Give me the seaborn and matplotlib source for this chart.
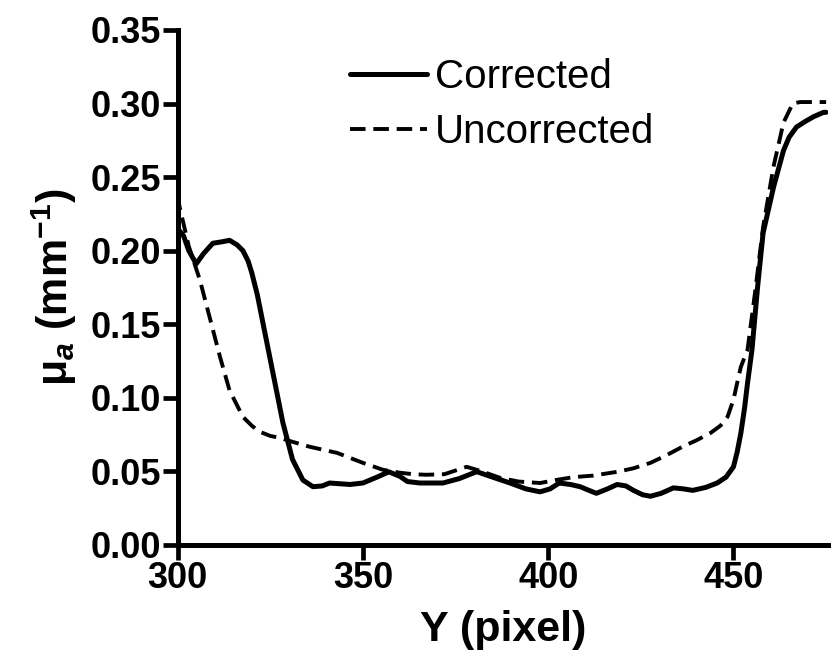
import matplotlib
matplotlib.use("Agg")
import matplotlib.pyplot as plt
import seaborn as sns
import pandas as pd

# Data
corr_x = [300, 301.6, 303, 305, 307, 309.5, 312, 314, 316, 317.6, 319, 320, 321.5, 323, 325.7, 328.4, 331, 333.8,
          336.5, 339, 341, 346.5, 350, 353.8, 357, 360, 362, 365.4, 371.6, 376, 380.7, 385, 389.7, 394, 397.8,
          400.5, 403, 406, 408.6, 411, 413, 416, 418.6, 421, 423, 425.5, 427.6, 430.5, 433.8, 436.5, 439,
          442.5, 445.6, 448, 450, 451, 452, 453, 453.8, 455, 456.5, 458, 460.8, 463.5, 465, 467, 469.5,
          471.6, 474.3, 475]
corr_y = [0.215, 0.210, 0.200, 0.191, 0.198, 0.205, 0.206, 0.207, 0.204, 0.200, 0.193, 0.185, 0.170, 0.151, 0.117,
          0.083, 0.058, 0.044, 0.0395, 0.040, 0.042, 0.041, 0.042, 0.046, 0.0496, 0.0465, 0.043, 0.042, 0.042,
          0.045, 0.0497, 0.046, 0.042, 0.038, 0.036, 0.038, 0.042, 0.041, 0.0395, 0.037, 0.035, 0.038, 0.041,
          0.040, 0.037, 0.034, 0.033, 0.035, 0.0387, 0.038, 0.037, 0.039, 0.042, 0.046, 0.053, 0.063, 0.076,
          0.093, 0.110, 0.1326, 0.175, 0.212, 0.243, 0.268, 0.277, 0.284, 0.288, 0.291, 0.294, 0.294]

unc_x = [300, 300.5, 303, 306, 308.6, 311.4, 314, 317.6, 320, 322, 325, 327.6, 331, 335.7, 343, 350, 355.4,
         360, 363.5, 367, 372, 378, 382, 387, 392, 397.8, 402, 406.8, 412, 418.6, 423, 427.6, 432, 436.5,
         440, 443.8, 446.5, 448.4, 450, 451, 452, 453.8, 456, 458, 460.8, 463.5, 466, 468, 470, 473.5, 475]
unc_y = [0.238, 0.230, 0.203, 0.180, 0.155, 0.128, 0.105, 0.087, 0.081, 0.077, 0.074, 0.0727, 0.070, 0.0666,
         0.0625, 0.0557, 0.051, 0.049, 0.048, 0.0476, 0.048, 0.053, 0.050, 0.0455, 0.043, 0.042, 0.044, 0.046,
         0.047, 0.0496, 0.052, 0.0557, 0.061, 0.067, 0.071, 0.076, 0.081, 0.087, 0.0986, 0.110, 0.121, 0.1326,
         0.175, 0.216, 0.257, 0.287, 0.300, 0.301, 0.301, 0.301, 0.301]

x_ticks = [300, 350, 400, 450]
y_ticks = [0.00, 0.05, 0.10, 0.15, 0.20, 0.25, 0.30, 0.35]

df_c = pd.DataFrame({"x": corr_x, "y": corr_y})
df_u = pd.DataFrame({"x": unc_x, "y": unc_y})

sns.set_style("ticks")
plt.rcParams["font.family"] = ["Liberation Sans", "DejaVu Sans"]
plt.rcParams["mathtext.fontset"] = "custom"
plt.rcParams["mathtext.rm"] = "Liberation Sans:bold"
plt.rcParams["mathtext.it"] = "Liberation Sans:bold:italic"
plt.rcParams["mathtext.bf"] = "Liberation Sans:bold"
plt.rcParams["axes.unicode_minus"] = False
for k in ["text.color", "axes.labelcolor", "xtick.color", "ytick.color", "axes.edgecolor"]:
    plt.rcParams[k] = "black"

fig = plt.figure(figsize=(8.38, 6.66), dpi=100)
ax = fig.add_axes([0.212, 0.182, 0.776, 0.773])

sns.lineplot(data=df_c, x="x", y="y", ax=ax, color="black", lw=3.6, label="Corrected", sort=False)
sns.lineplot(data=df_u, x="x", y="y", ax=ax, color="black", lw=2.8, label="Uncorrected", sort=False,
             linestyle=(0, (4, 2)))

ax.set_xlim(300, 475.5)
ax.set_ylim(0, 0.35)
ax.set_xticks(x_ticks)
ax.set_yticks(y_ticks)
ax.set_yticklabels([f"{v:.2f}" for v in y_ticks])
for sp in ["top", "right"]:
    ax.spines[sp].set_visible(False)
for sp in ["left", "bottom"]:
    ax.spines[sp].set_linewidth(3.6)
ax.tick_params(axis="both", length=11, width=3.4, labelsize=26, pad=1)
for lab in ax.get_xticklabels() + ax.get_yticklabels():
    lab.set_fontweight("bold")

ax.set_xlabel("Y (pixel)", fontsize=31, fontweight="bold", labelpad=10)
ax.set_ylabel(r"μ$_{a}$ (mm$^{-1}$)", fontsize=31, fontweight="bold", labelpad=8)

leg = ax.legend(loc="upper left", bbox_to_anchor=(0.21, 1.015), frameon=False, fontsize=29,
                handlelength=1.9, handletextpad=0.2, labelspacing=0.4)

fig.savefig("out.png", dpi=100)
